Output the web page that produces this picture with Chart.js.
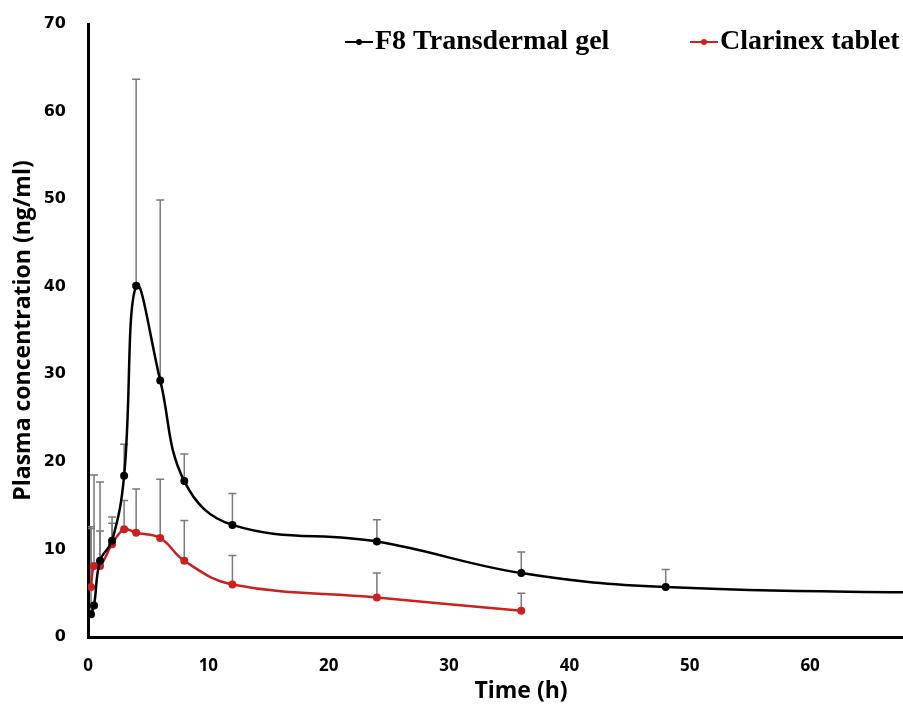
<!DOCTYPE html>
<html><head><meta charset="utf-8">
<script src="https://cdn.jsdelivr.net/npm/chart.js@4.4.1/dist/chart.umd.min.js"></script>
<style>html,body{margin:0;padding:0;background:#fff;overflow:hidden}#wrap{width:903px;height:707px;position:relative;overflow:hidden}</style>
</head><body><div id="wrap"><canvas id="c" width="908" height="707"></canvas></div>
<script>
// ---- data ----
const timeF8 = [0.25, 0.5, 1, 2, 3, 4, 6, 8, 12, 24, 36, 48, 72];
const concF8 = [2.6, 3.6, 8.7, 11.0, 18.4, 40.1, 29.3, 17.8, 12.8, 10.9, 7.3, 5.7, 5.0];
const sdTopF8 = [12.6, null, 17.7, 13.7, 22.0, 63.7, 49.9, 20.9, 16.4, 13.4, 9.7, 7.7, null];
const timeClarinex = [0.25, 0.5, 1, 2, 3, 4, 6, 8, 12, 24, 36];
const concClarinex = [5.7, 8.1, 8.1, 10.6, 12.3, 11.9, 11.3, 8.7, 6.0, 4.5, 3.0];
const sdTopClarinex = [12.4, 18.5, 12.1, 13.0, 15.6, 16.9, 18.0, 13.3, 9.3, 7.3, 5.0];
const xTicks = [0, 10, 20, 30, 40, 50, 60];
const yTicks = [0, 10, 20, 30, 40, 50, 60, 70];
const seriesNames = ['F8 Transdermal gel', 'Clarinex tablet'];
const xTitle = 'Time (h)';
const yTitle = 'Plasma concentration (ng/ml)';

const BLACK = '#000000', RED = '#cc2020';

const errorBars = {
  id: 'errorBars',
  beforeDatasetsDraw(chart) {
    const {ctx, chartArea: a, scales: {x, y}} = chart;
    ctx.save();
    ctx.beginPath(); ctx.rect(a.left, a.top - 2, a.right - a.left, a.bottom - a.top + 2); ctx.clip();
    ctx.strokeStyle = '#7a7a7a'; ctx.lineWidth = 1.5;
    const sets = [[timeF8, concF8, sdTopF8], [timeClarinex, concClarinex, sdTopClarinex]];
    sets.forEach(([t, v, top]) => {
      t.forEach((tt, i) => {
        if (top[i] == null) return;
        const px = x.getPixelForValue(tt), p0 = y.getPixelForValue(v[i]), p1 = y.getPixelForValue(top[i]);
        ctx.beginPath(); ctx.moveTo(px, p0); ctx.lineTo(px, p1);
        ctx.moveTo(px - 4, p1); ctx.lineTo(px + 4, p1); ctx.stroke();
      });
    });
    ctx.restore();
  }
};

const extras = {
  id: 'extras',
  afterDraw(chart) {
    const ctx = chart.ctx;
    ctx.save();
    // legend
    const items = [[seriesNames[0], BLACK, 345], [seriesNames[1], RED, 690]];
    items.forEach(([txt, col, lx]) => {
      ctx.strokeStyle = col; ctx.lineWidth = 2;
      ctx.beginPath(); ctx.moveTo(lx, 42); ctx.lineTo(lx + 28, 42); ctx.stroke();
      ctx.fillStyle = col; ctx.beginPath(); ctx.arc(lx + 14, 42, 3, 0, Math.PI * 2); ctx.fill();
      ctx.fillStyle = '#000'; ctx.font = 'bold 28px "Liberation Serif"';
      ctx.textBaseline = 'middle'; ctx.textAlign = 'left';
      ctx.fillText(txt, lx + 30, 42);
    });
    // x title
    ctx.font = 'bold 23px "Open Sans"'; ctx.textAlign = 'center'; ctx.textBaseline = 'middle';
    ctx.fillText(xTitle, 521, 691);
    ctx.restore();
  }
};

new Chart(document.getElementById('c'), {
  type: 'line',
  data: {
    datasets: [
      {label: seriesNames[0], data: timeF8.map((t, i) => ({x: t, y: concF8[i]})),
       borderColor: BLACK, backgroundColor: BLACK, borderWidth: 2.5, tension: 0.4,
       pointRadius: 4, pointBackgroundColor: BLACK, pointBorderWidth: 0},
      {label: seriesNames[1], data: timeClarinex.map((t, i) => ({x: t, y: concClarinex[i]})),
       borderColor: RED, backgroundColor: RED, borderWidth: 2.5, tension: 0.4,
       pointRadius: 4, pointBackgroundColor: RED, pointBorderWidth: 0}
    ]
  },
  options: {
    responsive: false, animation: false, devicePixelRatio: 1,
    layout: {padding: {top: 24, right: 0, left: 0, bottom: 0}},
    plugins: {legend: {display: false}, tooltip: {enabled: false}},
    scales: {
      x: {type: 'linear', min: 0, max: 67.8,
          afterBuildTicks: s => { s.ticks = xTicks.map(v => ({value: v})); },
          afterFit: s => { s.height = 70; s.paddingRight = 0; s.paddingLeft = 0; },
          grid: {display: false}, border: {display: true, color: '#000', width: 3},
          ticks: {color: '#000', font: {family: 'Open Sans', weight: 'bold', size: 17}, padding: 11, maxRotation: 0},
          title: {display: false}},
      y: {type: 'linear', min: 0, max: 70,
          afterBuildTicks: s => { s.ticks = yTicks.map(v => ({value: v})); },
          afterFit: s => { s.width = 88; },
          grid: {display: false}, border: {display: true, color: '#000', width: 3},
          ticks: {color: '#000', font: {family: 'DejaVu Sans', weight: 'bold', size: 16}, padding: 14},
          title: {display: true, text: yTitle, color: '#000',
                  font: {family: 'Open Sans', weight: 'bold', size: 23}, padding: {top: 10, bottom: 0}}}
    }
  },
  plugins: [errorBars, extras]
});
</script></body></html>
